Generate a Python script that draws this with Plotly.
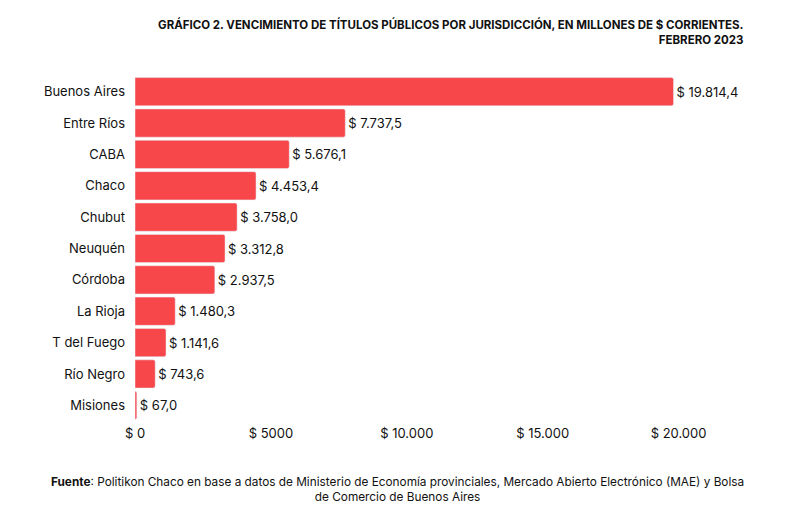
import plotly.graph_objects as go

# Vencimientos por jurisdicción (millones de $), febrero 2023
provincias = ["Buenos Aires", "Entre Ríos", "CABA", "Chaco", "Chubut", "Neuquén",
              "Córdoba", "La Rioja", "T del Fuego", "Río Negro", "Misiones"]
montos = [19814.4, 7737.5, 5676.1, 4453.4, 3758.0, 3312.8,
          2937.5, 1480.3, 1141.6, 743.6, 67.0]

tick_vals = [0, 5000, 10000, 15000, 20000]
tick_text = ["$ 0", "$ 5000", "$ 10.000", "$ 15.000", "$ 20.000"]

FONT = "Inter, Lato, sans-serif"
L, R, T, B = 127, 103, 68, 98
W, H = 779, 511
plot_w = W - L - R

fig = go.Figure()
fig.add_trace(go.Bar(
    y=provincias, x=montos, orientation="h",
    marker=dict(color="#F8474B", cornerradius=2),
    texttemplate="$ %{x:,.1f}", textposition="outside", cliponaxis=False,
    textfont=dict(size=13, color="#111111", family=FONT),
))

fig.update_layout(
    width=W, height=H,
    margin=dict(l=L, r=R, t=T, b=B),
    paper_bgcolor="white", plot_bgcolor="white",
    separators=",.",
    bargap=0.1,
    showlegend=False,
    font=dict(family=FONT, size=13, color="#111111"),
)
fig.update_yaxes(autorange="reversed", showgrid=False, ticks="", ticklabelstandoff=9,
                 tickfont=dict(size=13))
fig.update_xaxes(range=[0, 20200], tickvals=tick_vals, ticktext=tick_text,
                 showgrid=False, zeroline=False, showline=False, ticks="",
                 ticklabelstandoff=3, tickfont=dict(size=13))

# Título
fig.add_annotation(
    text="<b>GRÁFICO 2. VENCIMIENTO DE TÍTULOS PÚBLICOS POR JURISDICCIÓN, EN MILLONES DE $ CORRIENTES.</b>"
         "<br><b>FEBRERO 2023</b>",
    xref="paper", yref="paper", x=(737 - L) / plot_w, y=1,
    xanchor="right", yanchor="bottom", yshift=27, align="right", showarrow=False,
    font=dict(size=11.5, color="#111111", family=FONT),
)

# Fuente
fig.add_annotation(
    text="<b>Fuente</b>: Politikon Chaco en base a datos de Ministerio de Economía provinciales, "
         "Mercado Abierto Electrónico (MAE) y Bolsa<br>de Comercio de Buenos Aires",
    xref="paper", yref="paper", x=(389 - L) / plot_w, y=0,
    xanchor="center", yanchor="top", yshift=-52, align="center", showarrow=False,
    font=dict(size=11.8, color="#111111", family=FONT),
)

fig.write_html("out.html")
